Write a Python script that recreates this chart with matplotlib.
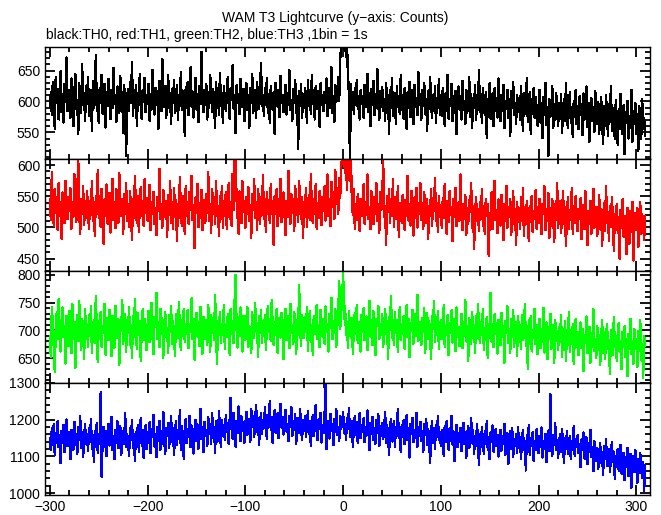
import numpy as np
import matplotlib
matplotlib.use("Agg")
import matplotlib.pyplot as plt
from matplotlib.ticker import MultipleLocator

plt.rcParams['font.family'] = ['Liberation Sans', 'DejaVu Sans']

# time of first bin (s) and bin size (s)
t_start = -300
bin_size = 1

th0 = [
590, 615, 578, 632, 601, 556, 640, 597, 620, 571, 608, 649, 583, 612, 566, 628, 599, 671, 585, 603,
618, 574, 637, 592, 560, 611, 645, 588, 602, 547, 629, 606, 581, 660, 594, 613, 569, 625, 598, 640,
577, 603, 619, 552, 633, 590, 612, 675, 584, 606, 565, 621, 597, 643, 580, 609, 628, 558, 615, 593,
636, 601, 572, 618, 589, 654, 596, 611, 567, 624, 603, 582, 641, 598, 615, 549, 627, 590, 512, 606,
620, 585, 631, 598, 664, 577, 609, 593, 626, 560, 614, 603, 644, 588, 572, 619, 601, 638, 583, 610,
596, 628, 569, 612, 587, 651, 604, 579, 622, 595, 617, 556, 633, 600, 584, 669, 609, 591, 625, 574,
607, 642, 589, 613, 563, 620, 598, 634, 581, 604, 627, 570, 611, 593, 648, 586, 602, 617, 545, 623,
599, 631, 578, 609, 655, 592, 616, 574, 603, 638, 587, 612, 567, 625, 596, 680, 601, 583, 619, 594,
628, 571, 606, 590, 643, 612, 583, 620, 597, 558, 631, 602, 614, 579, 646, 593, 608, 566, 624, 600,
585, 617, 639, 594, 572, 621, 603, 658, 588, 611, 549, 626, 597, 612, 580, 636, 605, 591, 620, 568,
603, 629, 586, 611, 557, 622, 597, 645, 581, 606, 619, 573, 632, 598, 588, 614, 662, 593, 607, 576,
621, 595, 638, 582, 609, 566, 624, 600, 587, 615, 548, 630, 604, 592, 619, 575, 641, 598, 611, 583,
605, 627, 579, 613, 594, 650, 586, 602, 569, 620, 598, 635, 581, 608, 523, 617, 593, 628, 574, 606,
590, 622, 601, 565, 634, 597, 612, 580, 643, 596, 609, 571, 625, 588, 603, 617, 559, 629, 594, 611,
584, 615, 598, 637, 576, 603, 621, 590, 655, 582, 608, 567, 626, 599, 614, 640, 601, 668, 690, 695,
700, 685, 695, 672, 690, 641, 612, 505, 628, 597, 613, 580, 622, 594, 635, 588, 603, 571, 618, 596,
609, 574, 627, 591, 602, 645, 583, 614, 560, 620, 595, 633, 578, 606, 589, 652, 598, 571, 616, 592,
623, 585, 604, 569, 630, 596, 611, 548, 618, 590, 637, 577, 601, 614, 563, 625, 593, 607, 580, 642,
586, 609, 572, 621, 597, 556, 615, 589, 632, 575, 603, 618, 564, 627, 591, 606, 578, 647, 595, 612,
571, 619, 593, 630, 580, 603, 553, 616, 588, 640, 597, 574, 611, 585, 624, 566, 605, 592, 636, 579,
600, 576, 622, 590, 561, 614, 585, 643, 572, 603, 593, 628, 568, 609, 582, 617, 547, 598, 624, 587,
608, 571, 633, 589, 600, 563, 619, 582, 596, 640, 575, 612, 558, 605, 591, 626, 570, 601, 587, 650,
583, 609, 566, 622, 594, 578, 615, 541, 603, 589, 630, 572, 598, 613, 560, 621, 585, 606, 574, 637,
592, 568, 611, 584, 627, 557, 600, 588, 619, 573, 603, 545, 616, 590, 632, 579, 597, 564, 610, 586,
606, 571, 625, 589, 552, 613, 580, 598, 637, 567, 594, 615, 548, 603, 582, 621, 574, 607, 590, 561,
585, 619, 566, 598, 541, 607, 578, 630, 562, 591, 512, 603, 575, 588, 624, 557, 596, 571, 614, 583,
560, 597, 574, 612, 549, 586, 603, 568, 629, 580, 557, 594, 615, 565, 588, 542, 601, 576, 619, 563,
592, 555, 608, 579, 596, 546, 613, 571, 587, 624, 559, 598, 535, 582, 605, 568, 591, 550, 616, 577,
563, 599, 548, 584, 607, 570, 532, 592, 561, 610, 578, 545, 596, 567, 625, 553, 589, 574, 540, 602,
571, 530, 588, 556, 612, 577, 547, 594, 515, 583, 565, 601, 540, 576, 558, 619, 535, 585, 564, 597,
548, 579, 520, 592, 562, 540, 603, 556, 573, 545,
]

th1 = [
545, 512, 589, 530, 503, 561, 524, 548, 496, 571, 519, 540, 482, 556, 528, 507, 575, 533, 514, 549,
526, 563, 498, 541, 517, 585, 532, 509, 552, 610, 527, 490, 546, 521, 567, 504, 538, 515, 558, 529,
497, 543, 520, 574, 511, 535, 486, 550, 527, 592, 516, 539, 501, 562, 530, 474, 545, 518, 569, 506,
533, 555, 492, 524, 578, 512, 540, 499, 561, 528, 507, 587, 534, 518, 546, 489, 553, 522, 571, 510,
537, 501, 559, 526, 480, 545, 516, 582, 529, 508, 550, 493, 536, 565, 519, 542, 503, 577, 524, 547,
511, 534, 568, 496, 540, 522, 557, 505, 531, 488, 549, 526, 594, 513, 538, 500, 560, 529, 517, 543,
485, 552, 520, 574, 508, 535, 497, 563, 527, 544, 479, 538, 516, 581, 525, 503, 551, 532, 490, 566,
519, 541, 506, 557, 528, 583, 512, 536, 467, 548, 523, 570, 501, 539, 515, 560, 496, 544, 527, 508,
553, 524, 589, 510, 537, 492, 562, 530, 547, 505, 575, 518, 534, 486, 551, 529, 566, 500, 542, 521,
557, 498, 535, 571, 514, 540, 503, 586, 528, 610, 610, 545, 519, 490, 558, 532, 507, 574, 525, 543,
500, 549, 522, 565, 510, 536, 484, 553, 528, 577, 515, 541, 496, 562, 531, 505, 548, 520, 584, 513,
539, 493, 557, 526, 544, 507, 569, 521, 537, 472, 550, 530, 561, 502, 545, 518, 578, 509, 533, 556,
524, 488, 542, 517, 591, 530, 506, 553, 527, 545, 495, 567, 520, 538, 509, 575, 532, 514, 548, 483,
541, 525, 563, 501, 535, 552, 512, 586, 529, 507, 546, 522, 570, 498, 539, 516, 558, 531, 504, 549,
527, 566, 511, 540, 585, 519, 546, 502, 573, 533, 557, 514, 592, 538, 564, 521, 580, 547, 600, 610,
610, 610, 588, 610, 560, 610, 610, 575, 610, 541, 520, 562, 498, 537, 512, 553, 527, 494, 546, 518,
535, 569, 506, 541, 520, 585, 514, 532, 497, 558, 526, 505, 549, 521, 571, 510, 537, 492, 556, 528,
543, 608, 517, 534, 472, 551, 525, 562, 508, 540, 519, 577, 501, 532, 548, 513, 566, 485, 539, 524,
508, 552, 530, 496, 544, 519, 583, 511, 537, 503, 559, 525, 487, 548, 516, 564, 500, 535, 522, 571,
512, 539, 497, 556, 523, 507, 545, 481, 531, 518, 562, 503, 538, 527, 579, 510, 534, 493, 551, 520,
536, 499, 547, 515, 570, 524, 490, 542, 509, 558, 521, 533, 478, 546, 517, 563, 502, 529, 540, 511,
585, 520, 496, 538, 513, 552, 488, 531, 506, 544, 525, 572, 500, 535, 466, 518, 549, 510, 530, 494,
541, 515, 561, 502, 527, 489, 546, 520, 537, 454, 523, 508, 556, 497, 533, 575, 512, 528, 491, 545,
519, 503, 552, 526, 480, 538, 511, 567, 499, 532, 517, 545, 488, 524, 558, 506, 529, 472, 540, 514,
530, 497, 548, 511, 563, 486, 527, 505, 542, 520, 478, 535, 509, 551, 493, 526, 514, 560, 498, 533,
507, 546, 517, 489, 538, 522, 566, 496, 529, 510, 555, 484, 531, 503, 545, 519, 476, 537, 512, 571,
500, 525, 542, 491, 518, 559, 506, 533, 470, 521, 548, 497, 528, 512, 564, 489, 535, 507, 551, 516,
494, 529, 514, 547, 481, 520, 536, 498, 558, 511, 472, 527, 505, 543, 490, 523, 562, 500, 517, 533,
486, 515, 552, 497, 530, 470, 512, 539, 495, 567, 508, 524, 479, 534, 501, 548, 516, 463, 521, 506,
538, 492, 516, 450, 528, 503, 545, 485, 519, 498, 457, 531, 510, 474, 526, 493, 541, 447, 512, 523,
496, 531, 468, 515, 540, 489, 522, 503, 480, 518,
]

th2 = [
690, 652, 741, 713, 668, 625, 705, 732, 684, 756, 699, 662, 718, 741, 688, 707, 640, 726, 694, 672,
735, 701, 659, 747, 690, 714, 632, 709, 727, 681, 752, 697, 665, 721, 703, 648, 739, 686, 711, 670,
728, 694, 743, 660, 705, 719, 677, 761, 698, 643, 716, 689, 732, 671, 708, 695, 748, 656, 722, 700,
682, 737, 711, 654, 726, 693, 669, 744, 705, 687, 720, 638, 713, 699, 754, 676, 702, 730, 661, 718,
696, 742, 673, 709, 650, 725, 688, 757, 701, 667, 731, 692, 716, 645, 707, 738, 683, 720, 698, 664,
711, 735, 679, 703, 749, 690, 657, 724, 706, 768, 685, 714, 670, 739, 697, 722, 651, 708, 733, 689,
704, 660, 727, 698, 744, 675, 716, 692, 653, 730, 709, 686, 751, 697, 664, 719, 703, 739, 680, 711,
693, 736, 668, 712, 700, 758, 684, 721, 647, 706, 731, 689, 715, 672, 742, 699, 658, 724, 707, 685,
719, 674, 745, 702, 661, 728, 695, 710, 683, 763, 698, 640, 717, 704, 733, 678, 709, 692, 746, 667,
712, 688, 729, 701, 656, 738, 694, 716, 677, 752, 800, 705, 669, 723, 690, 741, 708, 662, 726, 697,
683, 718, 741, 671, 707, 695, 659, 732, 702, 686, 749, 698, 713, 652, 725, 704, 736, 678, 710, 693,
727, 665, 709, 744, 697, 720, 681, 755, 703, 674, 715, 692, 738, 660, 706, 722, 687, 731, 699, 648,
714, 739, 682, 705, 726, 668, 748, 696, 710, 675, 733, 701, 657, 719, 691, 781, 704, 672, 728, 709,
686, 723, 697, 742, 663, 711, 735, 679, 704, 656, 726, 693, 718, 745, 684, 709, 670, 737, 701, 689,
720, 676, 743, 698, 712, 662, 729, 705, 759, 684, 717, 695, 738, 671, 708, 726, 789, 702, 733, 748,
807, 720, 744, 691, 713, 668, 735, 700, 686, 722, 658, 709, 731, 694, 746, 677, 715, 703, 662, 728,
697, 740, 682, 711, 725, 665, 706, 753, 689, 718, 673, 734, 700, 655, 721, 708, 744, 684, 712, 692,
729, 670, 705, 738, 693, 716, 649, 724, 701, 762, 687, 710, 674, 732, 696, 719, 661, 707, 741, 683,
711, 694, 726, 667, 703, 745, 688, 720, 652, 713, 699, 737, 676, 706, 729, 690, 764, 681, 715, 700,
673, 722, 698, 740, 659, 709, 731, 685, 717, 694, 648, 726, 703, 752, 680, 711, 692, 734, 667, 705,
718, 684, 700, 745, 671, 709, 692, 727, 655, 713, 698, 736, 678, 704, 721, 663, 741, 689, 706, 672,
697, 730, 668, 712, 690, 755, 681, 707, 645, 722, 699, 676, 733, 694, 710, 659, 726, 686, 748, 700,
677, 715, 692, 738, 664, 703, 687, 724, 651, 711, 696, 768, 680, 706, 670, 729, 693, 713, 658, 719,
700, 674, 731, 689, 708, 642, 716, 695, 743, 678, 703, 660, 721, 688, 736, 671, 697, 714, 654, 725,
691, 709, 666, 728, 683, 700, 747, 672, 705, 631, 718, 694, 726, 662, 701, 686, 739, 675, 710, 657,
693, 721, 668, 703, 679, 740, 660, 697, 714, 648, 705, 685, 730, 667, 692, 710, 641, 718, 681, 699,
664, 706, 688, 727, 652, 695, 673, 716, 645, 700, 684, 732, 661, 698, 676, 711, 639, 689, 720, 670,
697, 655, 682, 714, 668, 703, 626, 691, 677, 725, 659, 688, 706, 642, 694, 671, 738, 663, 685, 650,
708, 674, 692, 637, 681, 719, 660, 696, 648, 686, 712, 667, 679, 621, 701, 683, 655, 724, 670, 690,
645, 688, 713, 662, 676, 630, 697, 671, 707, 652, 684, 618, 693, 666, 720, 657, 680, 640, 702, 669,
685, 634, 698, 662, 719, 647, 676, 615, 690, 672,
]

th3 = [
1150, 1118, 1176, 1132, 1189, 1104, 1163, 1141, 1197, 1125, 1158, 1082, 1170, 1136, 1185, 1112, 1149, 1201, 1128, 1166,
1140, 1093, 1172, 1154, 1119, 1194, 1131, 1160, 1106, 1180, 1145, 1210, 1123, 1167, 1098, 1153, 1187, 1135, 1162, 1114,
1177, 1139, 1203, 1121, 1158, 1086, 1168, 1144, 1192, 1110, 1161, 1133, 1275, 1045, 1152, 1181, 1126, 1169, 1101, 1147,
1188, 1130, 1164, 1207, 1117, 1155, 1092, 1173, 1138, 1196, 1122, 1159, 1183, 1105, 1146, 1170, 1134, 1218, 1127, 1162,
1143, 1101, 1178, 1150, 1199, 1124, 1160, 1087, 1166, 1137, 1186, 1113, 1157, 1205, 1129, 1171, 1096, 1148, 1184, 1120,
1165, 1138, 1193, 1109, 1174, 1152, 1213, 1127, 1161, 1099, 1180, 1142, 1197, 1118, 1168, 1135, 1222, 1145, 1106, 1176,
1156, 1190, 1124, 1167, 1209, 1140, 1178, 1103, 1163, 1196, 1131, 1172, 1149, 1227, 1117, 1182, 1158, 1094, 1169, 1201,
1137, 1175, 1153, 1211, 1126, 1184, 1160, 1108, 1171, 1199, 1143, 1187, 1121, 1166, 1230, 1148, 1179, 1112, 1194, 1157,
1173, 1128, 1206, 1162, 1189, 1135, 1217, 1154, 1181, 1110, 1195, 1167, 1141, 1224, 1170, 1126, 1198, 1159, 1185, 1146,
1212, 1168, 1190, 1133, 1202, 1260, 1176, 1149, 1219, 1185, 1127, 1197, 1163, 1236, 1178, 1142, 1209, 1170, 1194, 1138,
1187, 1221, 1159, 1203, 1175, 1139, 1229, 1183, 1210, 1152, 1196, 1240, 1167, 1205, 1131, 1191, 1218, 1162, 1199, 1177,
1233, 1184, 1148, 1212, 1192, 1251, 1171, 1206, 1136, 1198, 1225, 1165, 1189, 1217, 1150, 1201, 1243, 1179, 1208, 1160,
1194, 1226, 1168, 1188, 1141, 1211, 1180, 1234, 1157, 1197, 1172, 1215, 1133, 1186, 1204, 1163, 1228, 1176, 1145, 1199,
1171, 1209, 1152, 1188, 1223, 1161, 1195, 1128, 1182, 1213, 1156, 1190, 1240, 1167, 1144, 1201, 1174, 1218, 1138, 1185,
1163, 1207, 1295, 1120, 1178, 1196, 1149, 1216, 1172, 1187, 1131, 1203, 1166, 1229, 1158, 1181, 1142, 1210, 1175, 1193,
1220, 1164, 1188, 1145, 1205, 1179, 1232, 1153, 1170, 1197, 1126, 1184, 1211, 1160, 1193, 1138, 1176, 1219, 1150, 1185,
1167, 1204, 1139, 1180, 1157, 1225, 1172, 1118, 1190, 1161, 1208, 1146, 1177, 1135, 1199, 1164, 1214, 1128, 1183, 1155,
1192, 1148, 1173, 1221, 1137, 1186, 1160, 1104, 1179, 1203, 1141, 1168, 1195, 1125, 1181, 1156, 1230, 1150, 1171, 1113,
1184, 1158, 1198, 1133, 1166, 1212, 1145, 1176, 1097, 1189, 1162, 1205, 1139, 1173, 1151, 1218, 1127, 1180, 1155, 1194,
1142, 1169, 1112, 1187, 1158, 1203, 1131, 1175, 1149, 1083, 1163, 1196, 1137, 1178, 1120, 1185, 1154, 1209, 1144, 1166,
1129, 1173, 1150, 1101, 1182, 1139, 1195, 1160, 1118, 1176, 1143, 1210, 1132, 1168, 1087, 1157, 1186, 1125, 1163, 1140,
1178, 1114, 1152, 1191, 1134, 1167, 1097, 1159, 1183, 1122, 1147, 1204, 1138, 1172, 1106, 1155, 1130, 1188, 1144, 1076,
1161, 1127, 1179, 1143, 1108, 1170, 1135, 1196, 1119, 1153, 1092, 1166, 1141, 1184, 1113, 1150, 1174, 1128, 1159, 1100,
1145, 1172, 1116, 1156, 1133, 1189, 1105, 1148, 1163, 1079, 1139, 1168, 1121, 1177, 1098, 1142, 1130, 1160, 1110, 1181,
1124, 1153, 1093, 1146, 1171, 1117, 1137, 1062, 1158, 1128, 1184, 1104, 1149, 1132, 1166, 1088, 1141, 1119, 1174, 1136,
1110, 1155, 1127, 1179, 1097, 1143, 1120, 1162, 1085, 1138, 1168, 1114, 1270, 1148, 1102, 1157, 1131, 1191, 1118, 1145,
1096, 1139, 1160, 1112, 1175, 1127, 1083, 1150, 1121, 1168, 1106, 1134, 1156, 1092, 1143, 1118, 1182, 1101, 1147, 1125,
1158, 1109, 1133, 1071, 1146, 1119, 1165, 1094, 1129, 1152, 1080, 1137, 1113, 1173, 1100, 1126, 1060, 1141, 1118, 1089,
1122, 1067, 1104, 1135, 1082, 1111, 1049, 1127, 1093, 1148, 1075, 1106, 1120, 1058, 1098, 1139, 1084, 1113, 1040, 1101,
1078, 1120, 1062, 1095, 1131, 1053, 1088, 1110, 1035, 1099, 1072, 1124, 1046, 1086, 1107, 1015, 1080, 1102, 1059, 1117,
1070, 1028, 1093, 1055, 1110, 1064, 1041, 1085, 1005, 1076,
]

series = [th0, th1, th2, th3]
colors = ['black', 'red', '#00ff00', 'blue']
ylims = [(507, 688), (430, 610), (605, 807), (995, 1300)]
ymajor = [50, 50, 50, 100]
yminor = [10, 10, 10, 20]
xlim = (-305, 314)
xticks = [-300, -200, -100, 0, 100, 200, 300]

W, H = 661, 515
fig = plt.figure(figsize=(W / 100, H / 100), dpi=100)
left, right = 45 / W, 650 / W
top_px, bot_px = 47, 495
ph = (bot_px - top_px) / 4

for i, (vals, c) in enumerate(zip(series, colors)):
    y0 = 1 - (top_px + (i + 1) * ph) / H
    ax = fig.add_axes([left, y0, right - left, ph / H])
    t = t_start + bin_size * np.arange(len(vals))
    ax.plot(t, vals, color=c, lw=1.0, antialiased=False)
    ax.set_xlim(*xlim)
    ax.set_ylim(*ylims[i])
    ax.xaxis.set_major_locator(MultipleLocator(100))
    ax.xaxis.set_minor_locator(MultipleLocator(20))
    ax.yaxis.set_major_locator(MultipleLocator(ymajor[i]))
    ax.yaxis.set_minor_locator(MultipleLocator(yminor[i]))
    ax.tick_params(which='both', direction='in', top=True, right=True, width=1.3, labelsize=10)
    ax.tick_params(which='major', length=7)
    ax.tick_params(which='minor', length=3.5)
    for s in ax.spines.values():
        s.set_linewidth(1.0)
    if i < 3:
        ax.tick_params(labelbottom=False)
    else:
        ax.set_xticks(xticks)

fig.text(335 / W, 1 - 18 / H, 'WAM T3 Lightcurve (y\u2212axis: Counts)', ha='center', va='center', fontsize=10)
fig.text(46 / W, 1 - 35 / H, 'black:TH0, red:TH1, green:TH2, blue:TH3 ,1bin = 1s', ha='left', va='center', fontsize=10)

fig.savefig('out.png', dpi=100)
